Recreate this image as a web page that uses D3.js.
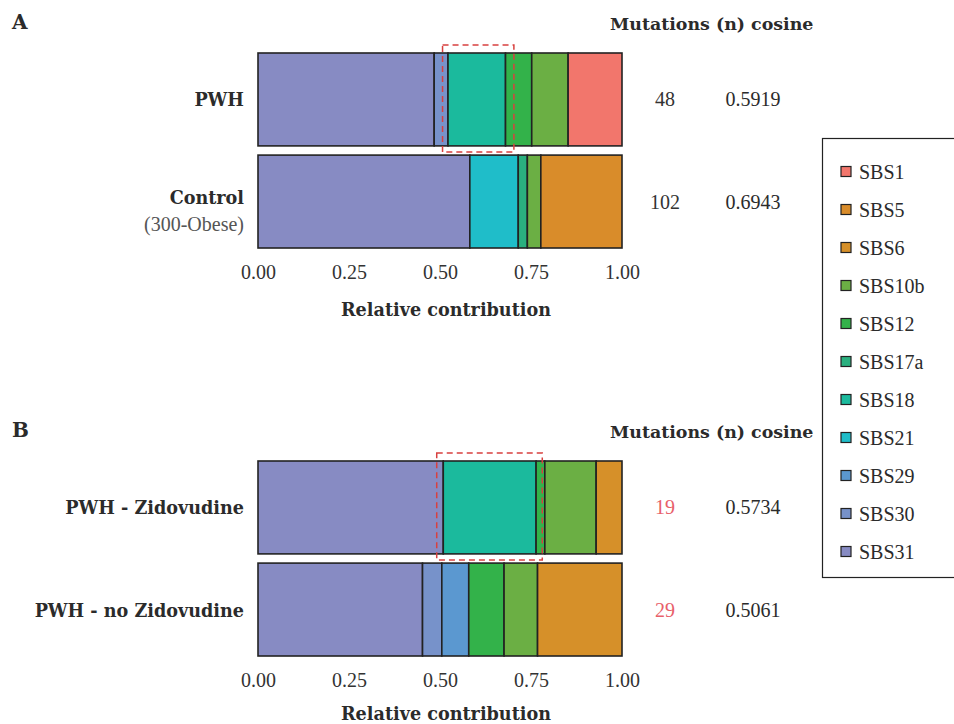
<!DOCTYPE html>
<html>
<head>
<meta charset="utf-8">
<script src="https://cdn.jsdelivr.net/npm/d3@7"></script>
<style>
  body { margin: 0; background: #fff; }
  svg { font-family: 'Liberation Serif', 'DejaVu Serif', serif; }
  .bold { font-family: 'DejaVu Serif', serif; font-weight: bold; }
</style>
</head>
<body>
<svg width="954" height="724"></svg>
<script>
// signatures in legend order, with their colours
const signatures = ['SBS1', 'SBS5', 'SBS6', 'SBS10b', 'SBS12', 'SBS17a', 'SBS18', 'SBS21', 'SBS29', 'SBS30', 'SBS31'];
const sigColors = ['#F2766C', '#D98C2A', '#D69029', '#6BAF44', '#33B24A', '#2AB07F', '#1BBA9D', '#1FBDC9', '#5B98D0', '#7792CA', '#878BC3'];

// panel A
const samplesA = ['PWH', 'Control'];
const subLabelsA = ['', '(300-Obese)'];
// relative contribution per signature, same order as `signatures`
const pwh = [0.148, 0, 0, 0.100, 0.072, 0, 0.158, 0, 0, 0.038, 0.484];
const control = [0, 0.223, 0, 0.037, 0, 0.025, 0, 0.133, 0, 0, 0.582];
const mutationsA = ['48', '102'];
const cosineA = ['0.5919', '0.6943'];

// panel B
const samplesB = ['PWH - Zidovudine', 'PWH - no Zidovudine'];
const zidovudine = [0, 0, 0.071, 0.141, 0.024, 0, 0.255, 0, 0, 0, 0.509];
const noZidovudine = [0, 0, 0.232, 0.092, 0.097, 0, 0, 0, 0.074, 0.053, 0.452];
const mutationsB = ['19', '29'];
const cosineB = ['0.5734', '0.5061'];

// highlighted region (dashed box) in contribution units
const highlightA = [0.507, 0.703];
const highlightB = [0.491, 0.781];

const xTicks = [0, 0.25, 0.5, 0.75, 1];

const svg = d3.select('svg');
const textColor = '#2b2b2b';
const color = d3.scaleOrdinal().domain(signatures).range(sigColors);
const x = d3.scaleLinear().domain([0, 1]).range([258, 622]);

// stack from SBS31 on the left to SBS1 on the right
const stackOrder = signatures.slice().reverse();

function drawPanel(opts) {
	const { letter, top, samples, values, subLabels, mutations, cosine, highlight, mutColor, titleY } = opts;
	const g = svg.append('g');

	const y = d3.scaleBand()
		.domain(samples)
		.range([top + 23, top + 218])
		.paddingInner(0.09);

	g.append('text')
		.attr('class', 'bold')
		.attr('x', 12).attr('y', top - 1)
		.attr('font-size', 20)
		.attr('fill', textColor)
		.text(letter);

	g.append('text')
		.attr('class', 'bold')
		.attr('x', 610).attr('y', top)
		.attr('font-size', 17.4)
		.attr('fill', textColor)
		.text('Mutations (n) cosine');

	const rows = samples.map((s, i) => {
		let acc = 0;
		const segs = [];
		stackOrder.forEach((sig) => {
			const v = values[i][signatures.indexOf(sig)];
			if (v > 0) {
				segs.push({ sig, x0: acc, x1: acc + v });
				acc += v;
			}
		});
		return { sample: s, segs };
	});

	rows.forEach((row, i) => {
		const rg = g.append('g');
		rg.selectAll('rect')
			.data(row.segs)
			.enter()
			.append('rect')
			.attr('x', (d) => x(d.x0))
			.attr('y', y(row.sample))
			.attr('width', (d) => x(d.x1) - x(d.x0))
			.attr('height', y.bandwidth())
			.attr('fill', (d) => color(d.sig))
			.attr('stroke', '#222')
			.attr('stroke-width', 1.6);

		const cy = y(row.sample) + y.bandwidth() / 2;
		const sub = subLabels ? subLabels[i] : '';
		g.append('text')
			.attr('class', 'bold')
			.attr('x', 244)
			.attr('y', sub ? cy + 2 : cy + 7)
			.attr('text-anchor', 'end')
			.attr('font-size', 17.6)
			.attr('fill', textColor)
			.text(row.sample);
		if (sub) {
			g.append('text')
				.attr('x', 244).attr('y', cy + 29)
				.attr('text-anchor', 'end')
				.attr('font-size', 20)
				.attr('fill', '#555')
				.text(sub);
		}

		g.append('text')
			.attr('x', 665).attr('y', cy + 7)
			.attr('text-anchor', 'middle')
			.attr('font-size', 20)
			.attr('fill', mutColor)
			.text(mutations[i]);
		g.append('text')
			.attr('x', 753).attr('y', cy + 7)
			.attr('text-anchor', 'middle')
			.attr('font-size', 20)
			.attr('fill', textColor)
			.text(cosine[i]);
	});

	// dashed highlight box
	const y0 = y.range()[0];
	g.append('rect')
		.attr('x', x(highlight[0]))
		.attr('y', y0 - 8)
		.attr('width', x(highlight[1]) - x(highlight[0]))
		.attr('height', y.step() + 5)
		.attr('fill', 'none')
		.attr('stroke', '#D8403F')
		.attr('stroke-width', 1.5)
		.attr('stroke-dasharray', '6,4');

	// x axis, labels only
	const axisY = y.range()[1] + 9;
	const axis = g.append('g')
		.attr('transform', `translate(0,${axisY})`)
		.call(d3.axisBottom(x).tickValues(xTicks).tickFormat(d3.format('.2f')).tickSize(0).tickPadding(0));
	axis.select('.domain').remove();
	axis.selectAll('text')
		.attr('font-family', "'Liberation Serif', serif")
		.attr('font-size', 20)
		.attr('fill', '#333')
		.attr('dy', '1.1em');

	g.append('text')
		.attr('class', 'bold')
		.attr('x', 446).attr('y', titleY)
		.attr('text-anchor', 'middle')
		.attr('font-size', 17.6)
		.attr('fill', textColor)
		.text('Relative contribution');
}

drawPanel({
	letter: 'A', top: 30, samples: samplesA, values: [pwh, control],
	subLabels: subLabelsA, mutations: mutationsA, cosine: cosineA,
	highlight: highlightA, mutColor: '#333', titleY: 316
});

drawPanel({
	letter: 'B', top: 438, samples: samplesB, values: [zidovudine, noZidovudine],
	subLabels: null, mutations: mutationsB, cosine: cosineB,
	highlight: highlightB, mutColor: '#E8606A', titleY: 720
});

// legend
const legend = svg.append('g');
legend.append('rect')
	.attr('x', 822.5).attr('y', 138.5)
	.attr('width', 140).attr('height', 439)
	.attr('fill', '#fff')
	.attr('stroke', '#222')
	.attr('stroke-width', 1.2);

const ly = d3.scalePoint().domain(signatures).range([171.5, 551.5]);
const items = legend.selectAll('g.item')
	.data(signatures)
	.enter()
	.append('g')
	.attr('class', 'item')
	.attr('transform', (d) => `translate(0,${ly(d)})`);
items.append('rect')
	.attr('x', 841).attr('y', -5)
	.attr('width', 10).attr('height', 10)
	.attr('fill', (d) => color(d))
	.attr('stroke', '#222')
	.attr('stroke-width', 1.2);
items.append('text')
	.attr('x', 859).attr('y', 7)
	.attr('font-size', 20)
	.attr('fill', textColor)
	.text((d) => d);
</script>
</body>
</html>
